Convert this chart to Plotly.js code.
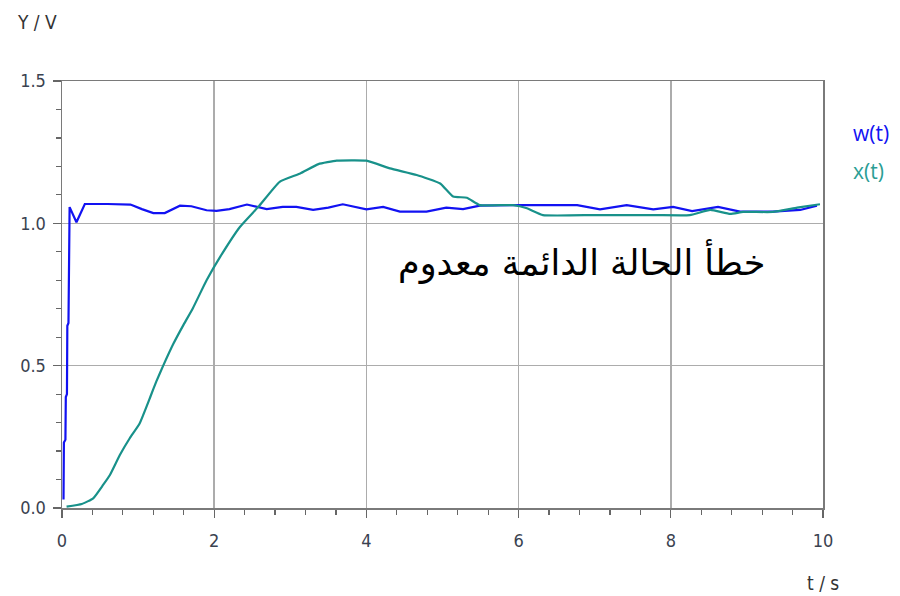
<!DOCTYPE html>
<html><head><meta charset="utf-8">
<script src="https://cdn.plot.ly/plotly-3.0.1.min.js"></script>
<style>html,body{margin:0;padding:0;background:#fff;}#chart{width:900px;height:596px;}</style>
</head><body><div id="chart"></div>
<script>
// w(t) — reference/command signal
var wT = [0.02,0.025,0.045,0.05,0.065,0.07,0.085,0.09,0.1,0.19,0.3,0.6,0.9,1.05,1.2,1.35,1.45,1.55,1.7,1.9,2.03,2.2,2.43,2.69,2.9,3.08,3.3,3.5,3.69,4.0,4.22,4.44,4.79,5.05,5.27,5.49,6.0,6.5,6.77,7.07,7.42,7.77,8.03,8.28,8.62,8.91,9.34,9.7,9.87,9.92];
var wY = [0.03,0.23,0.24,0.39,0.40,0.64,0.65,0.97,1.057,1.004,1.068,1.068,1.066,1.05,1.036,1.036,1.05,1.062,1.06,1.046,1.044,1.05,1.066,1.05,1.058,1.058,1.047,1.055,1.067,1.049,1.058,1.041,1.041,1.055,1.05,1.062,1.064,1.064,1.064,1.049,1.064,1.049,1.058,1.043,1.058,1.041,1.041,1.047,1.06,1.062];
// x(t) — system output
var xT = [0.06,0.26,0.41,0.54,0.63,0.76,0.89,1.02,1.16,1.24,1.33,1.46,1.6,1.72,1.9,2.08,2.34,2.58,2.86,3.13,3.37,3.61,4.0,4.31,4.66,4.97,5.14,5.32,5.49,5.93,6.11,6.32,7.0,7.8,8.25,8.52,8.78,8.95,9.34,9.66,9.96];
var xY = [0.005,0.014,0.034,0.081,0.116,0.186,0.245,0.297,0.39,0.445,0.50,0.575,0.645,0.702,0.80,0.883,0.988,1.058,1.146,1.175,1.208,1.22,1.22,1.193,1.17,1.14,1.094,1.09,1.064,1.064,1.053,1.029,1.029,1.029,1.029,1.047,1.033,1.04,1.04,1.055,1.067];
var xTicks = [0,2,4,6,8,10];
var yTicks = [0.0,0.5,1.0,1.5];
var seriesNames = ['w(t)','x(t)'];
var noteText = 'خطأ الحالة الدائمة معدوم';

var blue = '#1212f2', teal = '#18918a';
var labelColor = '#3a4250';
var tickFont = {family:'DejaVu Sans Condensed, DejaVu Sans', size:18, color:labelColor};

var data = [
  {x:wT, y:wY, mode:'lines', name:seriesNames[0], line:{color:blue, width:2.2}, showlegend:false},
  {x:xT, y:xY, mode:'lines', name:seriesNames[1], line:{color:teal, width:2.2, shape:'spline', smoothing:0.4}, showlegend:false}
];

var axisCommon = {
  showline:true, linecolor:'#7a7a7a', linewidth:1.5, mirror:true,
  showgrid:true, gridcolor:'#acacac', gridwidth:1.6,
  ticks:'outside', ticklen:8, tickcolor:'#666', tickwidth:1.2,
  tickfont:tickFont, zeroline:false
};

var layout = {
  width:900, height:596,
  margin:{l:62, r:77, t:81, b:88},
  paper_bgcolor:'#fff', plot_bgcolor:'#fff',
  showlegend:false,
  xaxis: Object.assign({}, axisCommon, {
    range:[0,10], tickvals:xTicks, ticktext:xTicks.map(String), ticklabelstandoff:8,
    minor:{dtick:0.4, ticks:'outside', ticklen:5, tickcolor:'#666', showgrid:false}
  }),
  yaxis: Object.assign({}, axisCommon, {
    range:[0,1.5], tickvals:yTicks, ticktext:yTicks.map(function(v){return v.toFixed(1);}), ticklabelstandoff:3,
    minor:{dtick:0.1, ticks:'outside', ticklen:5, tickcolor:'#666', showgrid:false}
  }),
  annotations:[
    {xref:'paper', yref:'paper', x:0, xshift:-25, y:1.0, yshift:59, xanchor:'center', yanchor:'middle',
     text:'Y / V', showarrow:false, font:{family:tickFont.family, size:19, color:'#333'}},
    {xref:'paper', yref:'paper', x:1.0, y:0, yshift:-75, xanchor:'center', yanchor:'middle',
     text:'t / s', showarrow:false, font:{family:tickFont.family, size:19, color:'#333'}},
    {xref:'paper', yref:'paper', x:1.0, xshift:28, y:1, yshift:-52, xanchor:'left', yanchor:'middle',
     text:seriesNames[0], showarrow:false, font:{family:'Open Sans, DejaVu Sans', size:21, color:blue}},
    {xref:'paper', yref:'paper', x:1.0, xshift:28, y:1, yshift:-90, xanchor:'left', yanchor:'middle',
     text:seriesNames[1], showarrow:false, font:{family:'Open Sans, DejaVu Sans', size:21, color:'#2a9d94'}},
    {xref:'x', yref:'y', x:6.83, y:0.865, xanchor:'center', yanchor:'middle',
     text:noteText, showarrow:false, font:{family:'DejaVu Sans, Noto Sans', size:35, color:'#000'}}
  ]
};

Plotly.newPlot('chart', data, layout, {staticPlot:true, displayModeBar:false});
</script></body></html>
